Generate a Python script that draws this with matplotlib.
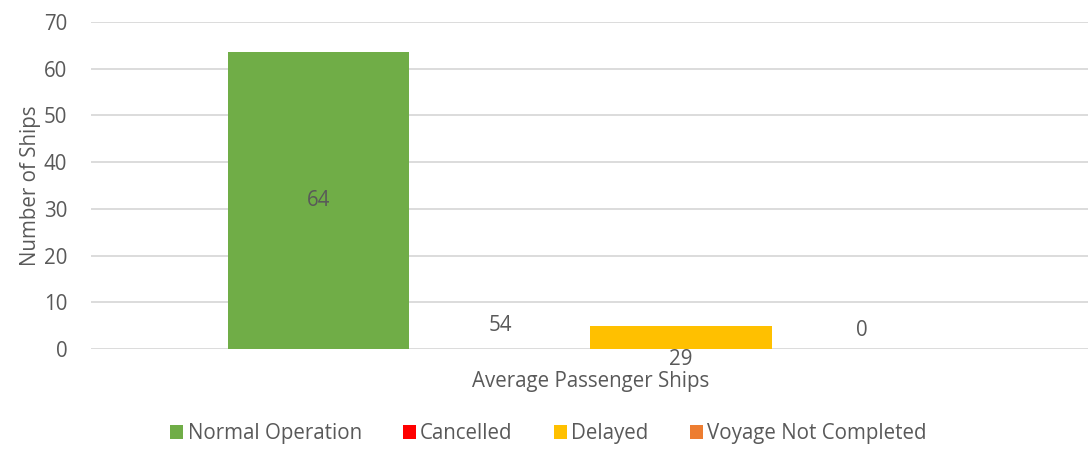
import matplotlib.pyplot as plt
import numpy as np

plt.rcParams['font.family'] = ['Open Sans', 'DejaVu Sans']

categories = ['Normal Operation', 'Cancelled', 'Delayed', 'Voyage Not Completed']
values = [63.5, 0, 5, 0]
colors = ['#70ad47', '#ff0000', '#ffc000', '#ed7d31']
# data labels as shown on the chart, with their vertical positions
label_text = ['64', '54', '29', '0']
label_y = [31.75, 5.0, -2.2, 4.0]
group_name = 'Average Passenger Ships'

txt = '#595959'
fs = 14.8
fig = plt.figure(figsize=(10.88, 4.5), dpi=100)
ax = fig.add_axes([0.0836, 0.2244, 0.9164, 0.7267])

x = np.arange(len(categories))
bars = ax.bar(x, values, width=1.0, color=colors, label=categories, zorder=3)
for xi, t, yy in zip(x, label_text, label_y):
    ax.text(xi, yy, t, ha='center', va='center', fontsize=fs, color=txt, zorder=4)

ax.set_xlim(-1.257, 4.246)
ax.set_ylim(0, 70)
ax.set_yticks(np.arange(0, 71, 10))
ax.yaxis.grid(True, color='#d9d9d9', linewidth=1.3, zorder=0)
ax.set_axisbelow(True)
for s in ax.spines.values():
    s.set_visible(False)
ax.tick_params(axis='y', length=0, labelsize=fs, labelcolor=txt, pad=17)
ax.set_xticks([])
ax.set_ylabel('Number of Ships', fontsize=fs, color=txt, labelpad=2)
ax.text(1.5, -7.0, group_name, ha='center', va='center', fontsize=fs, color=txt)

fig.legend(handles=bars, labels=categories, loc='center', bbox_to_anchor=(0.504, 0.036),
           ncol=4, frameon=False, fontsize=fs, labelcolor=txt,
           handlelength=0.65, handleheight=0.65, handletextpad=0.2, columnspacing=2.0)

fig.savefig('out.png', dpi=100)
